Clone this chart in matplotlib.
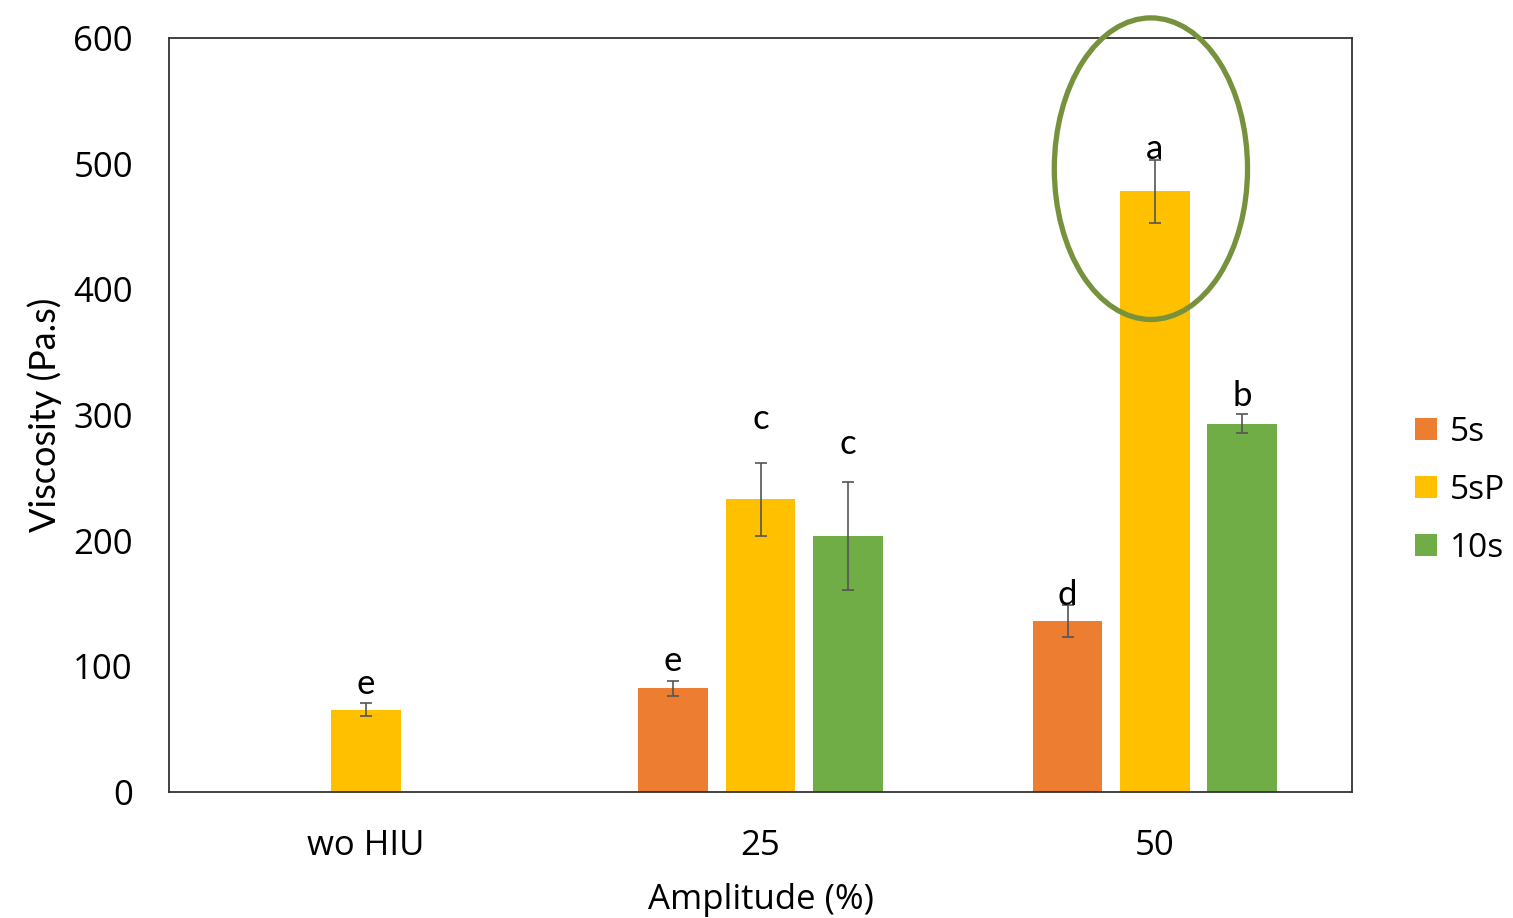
import numpy as np
import matplotlib.pyplot as plt
from matplotlib.patches import Ellipse

plt.rcParams['font.family'] = ['Open Sans', 'DejaVu Sans']

# data
groups = ['wo HIU', '25', '50']
series = ['5s', '5sP', '10s']
colors = ['#ED7D31', '#FFC000', '#70AD47']

values = {
    '5s':  [np.nan, 82.5, 136],
    '5sP': [65.5, 233, 478],
    '10s': [np.nan, 204, 293],
}
errors = {
    '5s':  [0, 6, 13],
    '5sP': [5, 29, 25],
    '10s': [0, 43, 7.5],
}
letters = {
    '5s':  [None, 'e', 'd'],
    '5sP': ['e', 'c', 'a'],
    '10s': [None, 'c', 'b'],
}
letter_y = {
    '5s':  [None, 104, 157],
    '5sP': [86, 297, 512],
    '10s': [None, 277, 315],
}

fig = plt.figure(figsize=(15.13, 9.18), dpi=100)
ax = fig.add_axes([0.1117, 0.1373, 0.7819, 0.8213])

x = np.arange(len(groups))
w = 0.177
off = 0.2215

for i, s in enumerate(series):
    xs = x + (i - 1)*off
    v = np.array(values[s])
    e = np.array(errors[s])
    ax.bar(xs, v, width=w, color=colors[i], label=s, zorder=2)
    ok = ~np.isnan(v)
    ax.errorbar(xs[ok], v[ok], yerr=e[ok], fmt='none', ecolor='#555555',
                elinewidth=1.2, capsize=4, capthick=1.2, zorder=3)
    for j in range(len(groups)):
        if letters[s][j]:
            ax.text(xs[j], letter_y[s][j], letters[s][j], ha='center',
                    va='center', fontsize=25, color='black', family='Lato')

# highlight circle around the top bar
ell = Ellipse((2.0 - 0.01, 496), width=0.49, height=240, fill=False,
              edgecolor='#76923C', lw=3.8, clip_on=False, zorder=4)
ax.add_patch(ell)

ax.set_xlim(-0.5, 2.5)
ax.set_ylim(0, 600)
ax.set_yticks(range(0, 601, 100))
ax.set_xticks(x)
ax.set_xticklabels(groups)
ax.tick_params(length=0, labelsize=25)
ax.tick_params(axis='y', pad=26)
ax.tick_params(axis='x', pad=27)
for sp in ax.spines.values():
    sp.set_color('#333333')
    sp.set_linewidth(1.3)

ax.set_xlabel('Amplitude (%)', fontsize=25, labelpad=14)
ax.set_ylabel('Viscosity (Pa.s)', fontsize=26, labelpad=8, family='Lato')

ax.legend(loc='center left', bbox_to_anchor=(1.028, 0.4), frameon=False,
          fontsize=24, handlelength=0.65, handleheight=0.65, handletextpad=0.4,
          labelspacing=0.75)

fig.savefig('out.png', dpi=100)
